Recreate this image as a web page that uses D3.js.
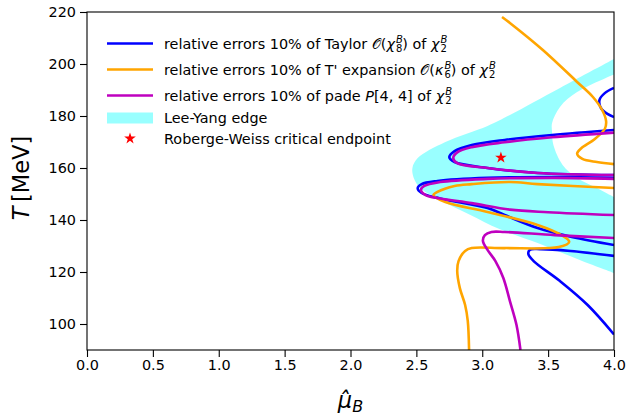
<!DOCTYPE html>
<html>
<head>
<meta charset="utf-8">
<script src="https://cdn.jsdelivr.net/npm/d3@7"></script>
<style>
    body { margin: 0; background: #fff; }
    text { font-family: "DejaVu Sans", sans-serif; }
</style>
</head>
<body>
<script>
//data, [muB, T]
//lee-yang edge band (outer and inner boundary)
var leeYangOuter = [[4.0,201.9],[3.59,190.8],[3.21,180.4],[3.04,176.2],[2.72,170.0],[2.51,163.8],[2.47,160.0],[2.48,156.2],[2.53,152.3],[2.68,147.7],[2.91,141.9],[3.13,136.5],[3.44,130.8],[3.74,124.6],[4.0,119.6]];
var leeYangInner = [[4.0,196.0],[3.72,189.2],[3.59,183.5],[3.53,177.3],[3.53,173.8],[3.54,168.8],[3.61,161.2],[3.72,156.2],[3.87,152.3],[4.0,148.8]];

//taylor O(chi8) contours
var taylorArc = [[4.0,190.8],[3.93,188.8],[3.89,186.2],[3.90,183.1],[3.95,180.8],[4.0,179.6]];
var taylorLoopA = [[4.0,174.6],[3.53,172.7],[3.17,170.8],[2.92,168.8],[2.79,166.5],[2.75,164.2],[2.79,162.3],[3.04,160.0],[3.42,158.1],[4.0,157.3]];
var taylorLoopB = [[4.0,156.2],[3.55,156.5],[3.04,156.2],[2.66,155.0],[2.54,153.8],[2.51,152.3],[2.54,150.4],[2.68,148.3],[3.04,144.6],[3.17,141.9],[3.42,136.9],[3.68,133.5],[4.0,130.4]];
var taylorLoopC = [[4.0,126.2],[3.67,128.1],[3.44,128.8],[3.36,128.5],[3.35,126.9],[3.39,124.2],[3.59,116.5],[3.80,107.3],[4.0,96.0]];

//T' expansion O(kappa6) contours
var tPrimeTop = [[3.15,218.1],[3.21,215.8],[3.46,205.4],[3.72,193.1],[3.84,187.3],[3.91,182.3],[3.94,178.0],[3.93,175.0],[3.85,171.0],[3.75,167.5],[3.72,165.5],[3.76,163.5],[3.87,162.3],[4.0,161.5]];
var tPrimeLoop = [[4.0,152.3],[3.42,153.8],[3.21,154.6],[2.92,153.8],[2.79,153.1],[2.66,150.8],[2.63,149.6],[2.72,146.9],[3.04,143.1],[3.42,138.1],[3.60,134.2],[3.66,131.6],[3.58,129.6],[3.17,129.2],[2.92,129.2],[2.87,128.1],[2.82,124.2],[2.81,120.4],[2.83,113.8],[2.87,107.3],[2.89,101.2],[2.90,90.0]];

//pade P[4,4] contours
var padeLoopA = [[4.0,173.6],[3.53,171.8],[3.17,169.9],[2.92,168.0],[2.81,166.0],[2.78,163.8],[2.81,161.9],[3.04,160.0],[3.42,158.1],[4.0,157.3]];
var padeLoopB = [[4.0,155.8],[3.55,156.2],[3.04,155.8],[2.68,154.6],[2.56,153.1],[2.535,151.5],[2.57,149.6],[2.68,148.3],[2.92,146.5],[3.21,144.0],[3.5,143.0],[4.0,141.9]];
var padeLoopD = [[4.0,133.1],[3.55,134.2],[3.17,135.4],[3.07,135.4],[3.02,134.2],[3.005,132.0],[3.04,128.5],[3.10,124.2],[3.16,117.7],[3.21,108.8],[3.26,99.6],[3.29,90.0]];

//roberge-weiss endpoint
var rwPoint = [3.1416, 164.0];

//axes
var xTicks = [0, 0.5, 1, 1.5, 2, 2.5, 3, 3.5, 4];
var yTicks = [100, 120, 140, 160, 180, 200, 220];

//legend labels, pieces of [text, kind]
var legendLabels = [
    [["relative errors 10% of Taylor ","n"],["\u{1D4AA}","n"],["(","n"],["\u03C7","i"],["B","sup"],["8","sub"],[")","n"],[" of ","n"],["\u03C7","i"],["B","sup"],["2","sub"]],
    [["relative errors 10% of T' expansion ","n"],["\u{1D4AA}","n"],["(","n"],["\u03BA","i"],["B","sup"],["6","sub"],[")","n"],[" of ","n"],["\u03C7","i"],["B","sup"],["2","sub"]],
    [["relative errors 10% of pade ","n"],["P","i"],["[4, 4]","n"],[" of ","n"],["\u03C7","i"],["B","sup"],["2","sub"]],
    [["Lee-Yang edge","n"]],
    [["Roberge-Weiss critical endpoint","n"]]
];

(function(){

    window.onload = setChart();

    function setChart(){

        var width = 627,
            height = 417;

        var margin = {left: 87, right: 13, top: 12, bottom: 67};

        var svg = d3.select("body")
            .append("svg")
            .attr("width", width)
            .attr("height", height);

        var x = d3.scaleLinear()
            .domain([0, 4])
            .range([margin.left, width - margin.right]);

        var y = d3.scaleLinear()
            .domain([90, 220])
            .range([height - margin.bottom, margin.top]);

        //clip to the axes box
        svg.append("clipPath")
            .attr("id", "plotClip")
            .append("rect")
            .attr("x", x(0))
            .attr("y", y(220))
            .attr("width", x(4) - x(0))
            .attr("height", y(90) - y(220));

        var plot = svg.append("g")
            .attr("clip-path", "url(#plotClip)");

        var line = d3.line()
            .x(function(d){ return x(d[0]); })
            .y(function(d){ return y(d[1]); })
            .curve(d3.curveCatmullRom.alpha(0.5));

        //lee-yang band, outer ring minus inner ring
        plot.append("path")
            .attr("d", line(leeYangOuter) + "Z" + line(leeYangInner) + "Z")
            .attr("fill", "cyan")
            .attr("fill-opacity", 0.4)
            .attr("fill-rule", "evenodd");

        var series = [
            {color: "#0000ff", lines: [taylorArc, taylorLoopA, taylorLoopB, taylorLoopC]},
            {color: "#ffa500", lines: [tPrimeTop, tPrimeLoop]},
            {color: "#bf00bf", lines: [padeLoopA, padeLoopB, padeLoopD]}
        ];

        series.forEach(function(s){
            plot.selectAll(null)
                .data(s.lines)
                .enter()
                .append("path")
                .attr("d", line)
                .attr("fill", "none")
                .attr("stroke", s.color)
                .attr("stroke-width", 2.6)
                .attr("stroke-linejoin", "round");
        });

        var star = d3.symbol().type(d3.symbolStar).size(42);

        plot.append("path")
            .attr("d", star)
            .attr("transform", "translate(" + x(rwPoint[0]) + "," + y(rwPoint[1]) + ")")
            .attr("fill", "red");

        setAxes(svg, x, y);
        setLegend(svg, star);
    };

    function setAxes(svg, x, y){
        //frame
        svg.append("rect")
            .attr("x", x(0))
            .attr("y", y(220))
            .attr("width", x(4) - x(0))
            .attr("height", y(90) - y(220))
            .attr("fill", "none")
            .attr("stroke", "#000")
            .attr("stroke-width", 1.1);

        var xAxis = svg.append("g")
            .attr("transform", "translate(0," + y(90) + ")")
            .call(d3.axisBottom(x)
                .tickValues(xTicks)
                .tickFormat(d3.format(".1f"))
                .tickSize(7)
                .tickPadding(3));

        var yAxis = svg.append("g")
            .attr("transform", "translate(" + x(0) + ",0)")
            .call(d3.axisLeft(y)
                .tickValues(yTicks)
                .tickSize(7)
                .tickPadding(4));

        [xAxis, yAxis].forEach(function(a){
            a.select(".domain").remove();
            a.selectAll(".tick line").attr("stroke", "#000").attr("stroke-width", 1.1);
            a.selectAll(".tick text")
                .attr("fill", "#000")
                .style("font-family", "DejaVu Sans")
                .style("font-size", "14.4px");
        });

        //x label: mu hat sub B
        var xl = svg.append("text")
            .attr("x", (x(0) + x(4)) / 2)
            .attr("y", 408)
            .attr("text-anchor", "middle")
            .style("font-size", "22.5px");
        xl.append("tspan").style("font-style", "italic").text("\u03BC\u0302");
        xl.append("tspan").attr("dy", 4).style("font-style", "italic").style("font-size", "16px").text("B");

        //y label
        var yl = svg.append("text")
            .attr("transform", "translate(29," + ((y(90) + y(220)) / 2 - 3) + ") rotate(-90)")
            .attr("text-anchor", "middle")
            .style("font-size", "22.5px");
        yl.append("tspan").style("font-style", "italic").text("T");
        yl.append("tspan").text("\u2009[MeV]");
    };

    function setLegend(svg, star){
        var rows = [43.5, 69.5, 95.5, 118, 138.5];
        var textX = 164;

        //handles
        [["#0000ff", 0], ["#ffa500", 1], ["#bf00bf", 2]].forEach(function(h){
            svg.append("line")
                .attr("x1", 107).attr("x2", 153)
                .attr("y1", rows[h[1]]).attr("y2", rows[h[1]])
                .attr("stroke", h[0])
                .attr("stroke-width", 2.6);
        });

        svg.append("rect")
            .attr("x", 107).attr("y", rows[3] - 5.5)
            .attr("width", 46).attr("height", 11)
            .attr("fill", "cyan")
            .attr("fill-opacity", 0.4);

        svg.append("path")
            .attr("d", star)
            .attr("transform", "translate(130," + rows[4] + ")")
            .attr("fill", "red");

        legendLabels.forEach(function(pieces, i){
            var base = rows[i] + 5;
            var t = svg.append("text")
                .attr("x", textX)
                .attr("y", base)
                .style("font-size", "14.4px")
                .attr("fill", "#000");

            var supLen = 0;
            pieces.forEach(function(p){
                var ts = t.append("tspan").text(p[0]);
                if (p[1] == "i"){
                    ts.attr("y", base).style("font-style", "italic");
                } else if (p[1] == "sup"){
                    ts.attr("y", base - 6).attr("dx", 1).style("font-size", "10px").style("font-style", "italic");
                    supLen = ts.node().getComputedTextLength();
                } else if (p[1] == "sub"){
                    ts.attr("y", base + 3).attr("dx", -supLen).style("font-size", "10px");
                    var subLen = ts.node().getComputedTextLength();
                    //next piece starts after the wider of sup and sub
                    t.append("tspan").attr("y", base).attr("dx", Math.max(0, supLen - subLen) + 1).text("");
                } else {
                    ts.attr("y", base);
                }
            });
        });
    };

})();
</script>
</body>
</html>
